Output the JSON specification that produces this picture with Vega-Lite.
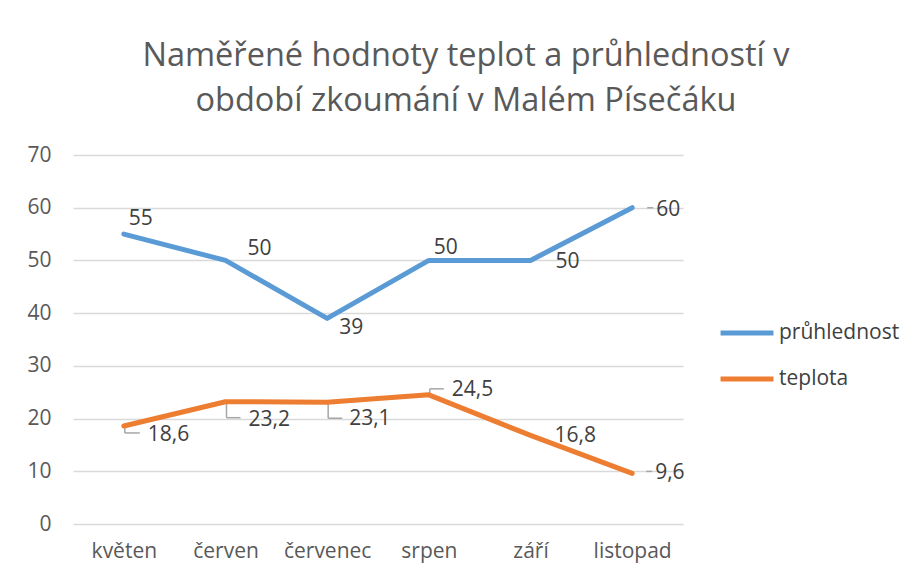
{
  "$schema": "https://vega.github.io/schema/vega-lite/v6.json",
  "width": 610,
  "height": 369,
  "autosize": {"type": "none"},
  "padding": {"left": 73, "top": 155, "right": 231, "bottom": 54},
  "background": "white",
  "title": {
    "text": ["Naměřené hodnoty teplot a průhledností v", "období zkoumání v Malém Písečáku"],
    "font": "Open Sans",
    "fontSize": 32.5,
    "fontWeight": "normal",
    "color": "#595959",
    "lineHeight": 45,
    "anchor": "middle",
    "frame": "group",
    "dx": 88,
    "offset": 27
  },
  "data": {
    "values": [
      {"month": "květen", "series": "průhlednost", "value": 55},
      {"month": "červen", "series": "průhlednost", "value": 50},
      {"month": "červenec", "series": "průhlednost", "value": 39},
      {"month": "srpen", "series": "průhlednost", "value": 50},
      {"month": "září", "series": "průhlednost", "value": 50},
      {"month": "listopad", "series": "průhlednost", "value": 60},
      {"month": "květen", "series": "teplota", "value": 18.6},
      {"month": "červen", "series": "teplota", "value": 23.2},
      {"month": "červenec", "series": "teplota", "value": 23.1},
      {"month": "srpen", "series": "teplota", "value": 24.5},
      {"month": "září", "series": "teplota", "value": 16.8},
      {"month": "listopad", "series": "teplota", "value": 9.6}
    ]
  },
  "transform": [
    {"calculate": "replace(datum.series === 'teplota' ? format(datum.value, '.1f') : format(datum.value, 'd'), '.', ',')", "as": "label"}
  ],
  "encoding": {
    "x": {
      "field": "month",
      "type": "nominal",
      "sort": ["květen", "červen", "červenec", "srpen", "září", "listopad"],
      "scale": {"type": "point", "padding": 0.5},
      "axis": {
        "title": null,
        "domain": false,
        "ticks": false,
        "grid": false,
        "labelAngle": 0,
        "labelFont": "Open Sans",
        "labelFontSize": 21,
        "labelColor": "#595959",
        "labelPadding": 16
      }
    },
    "y": {
      "field": "value",
      "type": "quantitative",
      "scale": {"domain": [0, 70], "nice": false},
      "axis": {
        "title": null,
        "values": [0, 10, 20, 30, 40, 50, 60, 70],
        "domain": false,
        "ticks": false,
        "grid": true,
        "gridColor": "#d9d9d9",
        "gridWidth": 1.5,
        "labelFont": "Open Sans",
        "labelFontSize": 21,
        "labelColor": "#595959",
        "labelPadding": 22
      }
    }
  },
  "layer": [
    {
      "transform": [{"filter": "datum.series === 'teplota' && (datum.month === 'červen' || datum.month === 'červenec')"}],
      "mark": {"type": "rule", "color": "#a6a6a6", "strokeWidth": 1.5, "y2Offset": 16, "xOffset": 1},
      "encoding": {"y2": {"field": "value"}}
    },
    {
      "transform": [{"filter": "datum.series === 'teplota' && (datum.month === 'červen' || datum.month === 'červenec')"}],
      "mark": {"type": "rule", "color": "#a6a6a6", "strokeWidth": 1.5, "yOffset": 16, "xOffset": 1, "x2Offset": 15},
      "encoding": {"x2": {"field": "month"}}
    },
    {
      "transform": [{"filter": "datum.series === 'teplota' && datum.month === 'květen'"}],
      "mark": {"type": "rule", "color": "#a6a6a6", "strokeWidth": 1.5, "y2Offset": 7, "xOffset": 1},
      "encoding": {"y2": {"field": "value"}}
    },
    {
      "transform": [{"filter": "datum.series === 'teplota' && datum.month === 'květen'"}],
      "mark": {"type": "rule", "color": "#a6a6a6", "strokeWidth": 1.5, "yOffset": 7, "xOffset": 1, "x2Offset": 16},
      "encoding": {"x2": {"field": "month"}}
    },
    {
      "transform": [{"filter": "datum.series === 'teplota' && datum.month === 'srpen'"}],
      "mark": {"type": "rule", "color": "#a6a6a6", "strokeWidth": 1.5, "y2Offset": -6, "xOffset": 1},
      "encoding": {"y2": {"field": "value"}}
    },
    {
      "transform": [{"filter": "datum.series === 'teplota' && datum.month === 'srpen'"}],
      "mark": {"type": "rule", "color": "#a6a6a6", "strokeWidth": 1.5, "yOffset": -6, "xOffset": 1, "x2Offset": 15},
      "encoding": {"x2": {"field": "month"}}
    },
    {
      "transform": [{"filter": "datum.series === 'průhlednost' && datum.month === 'listopad'"}],
      "mark": {"type": "rule", "color": "#a6a6a6", "strokeWidth": 1.5, "xOffset": 15, "x2Offset": 21},
      "encoding": {"x2": {"field": "month"}}
    },
    {
      "transform": [{"filter": "datum.series === 'teplota' && datum.month === 'listopad'"}],
      "mark": {"type": "rule", "color": "#a6a6a6", "strokeWidth": 1.5, "yOffset": -2, "xOffset": 14, "x2Offset": 20},
      "encoding": {"x2": {"field": "month"}}
    },
    {
      "mark": {"type": "line", "strokeWidth": 5, "strokeCap": "round", "strokeJoin": "round"},
      "encoding": {
        "color": {
          "field": "series",
          "type": "nominal",
          "scale": {"domain": ["průhlednost", "teplota"], "range": ["#5b9bd5", "#ed7d31"]},
          "legend": {
            "title": null,
            "orient": "none",
            "legendX": 645,
            "legendY": 168,
            "padding": 0,
            "symbolType": "stroke",
            "symbolSize": 2800,
            "symbolStrokeWidth": 5,
            "clipHeight": 20,
            "rowPadding": 25,
            "labelOffset": 3,
            "labelFont": "Open Sans",
            "labelFontSize": 21,
            "labelColor": "#404040"
          }
        }
      }
    },
    {
      "transform": [{"filter": "datum.series === 'průhlednost' && (datum.month === 'květen')"}],
      "mark": {"type": "text", "align": "left", "baseline": "middle", "font": "Open Sans", "fontSize": 21, "color": "#404040", "dx": 5, "dy": -15},
      "encoding": {"text": {"field": "label"}}
    },
    {
      "transform": [{"filter": "datum.series === 'průhlednost' && (datum.month === 'červen')"}],
      "mark": {"type": "text", "align": "left", "baseline": "middle", "font": "Open Sans", "fontSize": 21, "color": "#404040", "dx": 22, "dy": -11},
      "encoding": {"text": {"field": "label"}}
    },
    {
      "transform": [{"filter": "datum.series === 'průhlednost' && (datum.month === 'červenec')"}],
      "mark": {"type": "text", "align": "left", "baseline": "middle", "font": "Open Sans", "fontSize": 21, "color": "#404040", "dx": 12, "dy": 10},
      "encoding": {"text": {"field": "label"}}
    },
    {
      "transform": [{"filter": "datum.series === 'průhlednost' && (datum.month === 'srpen')"}],
      "mark": {"type": "text", "align": "left", "baseline": "middle", "font": "Open Sans", "fontSize": 21, "color": "#404040", "dx": 5, "dy": -12},
      "encoding": {"text": {"field": "label"}}
    },
    {
      "transform": [{"filter": "datum.series === 'průhlednost' && (datum.month === 'září')"}],
      "mark": {"type": "text", "align": "left", "baseline": "middle", "font": "Open Sans", "fontSize": 21, "color": "#404040", "dx": 25, "dy": 2},
      "encoding": {"text": {"field": "label"}}
    },
    {
      "transform": [{"filter": "datum.series === 'průhlednost' && (datum.month === 'listopad')"}],
      "mark": {"type": "text", "align": "left", "baseline": "middle", "font": "Open Sans", "fontSize": 21, "color": "#404040", "dx": 24, "dy": 2},
      "encoding": {"text": {"field": "label"}}
    },
    {
      "transform": [{"filter": "datum.series === 'teplota' && (datum.month === 'květen')"}],
      "mark": {"type": "text", "align": "left", "baseline": "middle", "font": "Open Sans", "fontSize": 21, "color": "#404040", "dx": 24, "dy": 9},
      "encoding": {"text": {"field": "label"}}
    },
    {
      "transform": [{"filter": "datum.series === 'teplota' && (datum.month === 'červen')"}],
      "mark": {"type": "text", "align": "left", "baseline": "middle", "font": "Open Sans", "fontSize": 21, "color": "#404040", "dx": 23, "dy": 18},
      "encoding": {"text": {"field": "label"}}
    },
    {
      "transform": [{"filter": "datum.series === 'teplota' && (datum.month === 'červenec')"}],
      "mark": {"type": "text", "align": "left", "baseline": "middle", "font": "Open Sans", "fontSize": 21, "color": "#404040", "dx": 22, "dy": 17},
      "encoding": {"text": {"field": "label"}}
    },
    {
      "transform": [{"filter": "datum.series === 'teplota' && (datum.month === 'srpen')"}],
      "mark": {"type": "text", "align": "left", "baseline": "middle", "font": "Open Sans", "fontSize": 21, "color": "#404040", "dx": 23, "dy": -5},
      "encoding": {"text": {"field": "label"}}
    },
    {
      "transform": [{"filter": "datum.series === 'teplota' && (datum.month === 'září')"}],
      "mark": {"type": "text", "align": "left", "baseline": "middle", "font": "Open Sans", "fontSize": 21, "color": "#404040", "dx": 24, "dy": 1},
      "encoding": {"text": {"field": "label"}}
    },
    {
      "transform": [{"filter": "datum.series === 'teplota' && (datum.month === 'listopad')"}],
      "mark": {"type": "text", "align": "left", "baseline": "middle", "font": "Open Sans", "fontSize": 21, "color": "#404040", "dx": 23, "dy": 0},
      "encoding": {"text": {"field": "label"}}
    }
  ],
  "config": {
    "view": {"stroke": null},
    "font": "Open Sans"
  }
}
